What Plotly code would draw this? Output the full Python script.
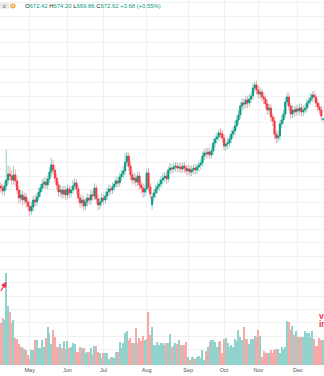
import plotly.graph_objects as go

# ---------------- data ----------------
month_ticks = [16, 37, 57, 81, 104, 124, 143, 165]
month_labels = ["May", "Jun", "Jul", "Aug", "Sep", "Oct", "Nov", "Dec"]

open_ = [622.5, 621.0, 618.8, 622.5, 627.0, 631.5, 630.0, 627.0, 630.8, 626.3,
 619.5, 613.5, 615.8, 612.0, 614.3, 610.5, 607.5, 603.8, 606.8, 612.0,
 610.5, 614.3, 618.0, 621.0, 624.0, 625.5, 623.3, 627.8, 633.0, 638.3,
 634.5, 628.5, 623.3, 618.0, 619.5, 616.5, 619.5, 615.8, 620.3, 617.3,
 619.5, 622.5, 624.8, 620.3, 613.5, 609.8, 612.0, 607.5, 610.5, 613.5,
 612.0, 615.8, 615.0, 621.0, 612.8, 608.3, 610.5, 613.5, 612.0, 615.0,
 618.0, 620.3, 619.5, 621.8, 624.0, 626.3, 624.8, 629.3, 631.5, 633.8,
 640.5, 645.0, 637.5, 630.8, 627.0, 628.5, 625.5, 630.0, 623.3, 621.0,
 618.0, 620.3, 632.3, 621.8, 608.3, 614.3, 617.3, 620.3, 622.5, 624.0,
 627.0, 628.5, 630.0, 627.8, 634.5, 636.0, 635.3, 636.8, 637.5, 636.0,
 636.8, 635.3, 637.5, 636.0, 633.8, 635.3, 633.0, 634.5, 636.0, 634.5,
 636.8, 638.3, 639.8, 645.0, 647.3, 646.5, 648.0, 645.8, 648.8, 654.8,
 657.8, 659.3, 662.3, 661.5, 658.5, 652.5, 654.0, 654.8, 657.8, 661.5,
 663.8, 667.5, 672.0, 675.8, 682.5, 684.8, 684.0, 687.0, 684.8, 687.8,
 690.0, 696.0, 698.3, 694.5, 691.5, 693.0, 689.3, 687.8, 684.0, 679.5,
 681.0, 674.3, 671.3, 661.5, 658.5, 660.0, 669.0, 672.0, 676.5, 685.5,
 689.3, 682.5, 676.5, 679.5, 678.0, 680.3, 678.8, 681.0, 678.0, 679.5,
 681.0, 684.8, 686.3, 688.5, 690.8, 689.3, 684.8, 681.8, 679.5, 672.42]

close = [621.0, 618.8, 622.5, 627.0, 631.5, 630.0, 627.0, 630.8, 626.3, 619.5,
 613.5, 615.8, 612.0, 614.3, 610.5, 607.5, 603.8, 606.8, 612.0, 610.5,
 614.3, 618.0, 621.0, 624.0, 625.5, 623.3, 627.8, 633.0, 638.3, 634.5,
 628.5, 623.3, 618.0, 619.5, 616.5, 619.5, 615.8, 620.3, 617.3, 619.5,
 622.5, 624.8, 620.3, 613.5, 609.8, 612.0, 607.5, 610.5, 613.5, 612.0,
 615.8, 615.0, 621.0, 612.8, 608.3, 610.5, 613.5, 612.0, 615.0, 618.0,
 620.3, 619.5, 621.8, 624.0, 626.3, 624.8, 629.3, 631.5, 633.8, 640.5,
 645.0, 637.5, 630.8, 627.0, 628.5, 625.5, 630.0, 623.3, 621.0, 618.0,
 620.3, 632.3, 621.8, 616.5, 614.3, 617.3, 620.3, 622.5, 624.0, 627.0,
 628.5, 630.0, 627.8, 634.5, 636.0, 635.3, 636.8, 637.5, 636.0, 636.8,
 635.3, 637.5, 636.0, 633.8, 635.3, 633.0, 634.5, 636.0, 634.5, 636.8,
 638.3, 639.8, 645.0, 647.3, 646.5, 648.0, 645.8, 648.8, 654.8, 657.8,
 659.3, 662.3, 661.5, 658.5, 652.5, 654.0, 654.8, 657.8, 661.5, 663.8,
 667.5, 672.0, 675.8, 682.5, 684.8, 684.0, 687.0, 684.8, 687.8, 690.0,
 696.0, 698.3, 694.5, 691.5, 693.0, 689.3, 687.8, 684.0, 679.5, 681.0,
 674.3, 671.3, 661.5, 658.5, 660.0, 669.0, 672.0, 676.5, 685.5, 689.3,
 682.5, 676.5, 679.5, 678.0, 680.3, 678.8, 681.0, 678.0, 679.5, 681.0,
 684.8, 686.3, 688.5, 690.8, 689.3, 684.8, 681.8, 679.5, 675.0, 672.62]

high = [625.5, 624.0, 626.0, 649.5, 638.0, 637.0, 634.5, 637.5, 635.0, 629.5,
 622.5, 619.5, 619.0, 617.5, 617.5, 613.5, 611.0, 610.5, 615.0, 616.0,
 617.0, 621.5, 624.0, 627.5, 629.0, 629.0, 630.5, 636.5, 643.5, 642.0,
 638.0, 632.0, 626.0, 623.5, 622.5, 623.0, 622.5, 624.0, 623.0, 622.5,
 627.0, 628.5, 627.5, 623.0, 617.0, 615.5, 615.0, 613.5, 617.0, 616.5,
 619.5, 619.0, 624.5, 623.5, 616.0, 613.5, 617.0, 616.5, 618.5, 621.0,
 623.5, 623.5, 625.0, 627.0, 629.5, 629.5, 632.5, 634.5, 637.5, 647.3,
 648.0, 647.5, 641.0, 633.5, 632.5, 631.5, 633.5, 633.0, 626.0, 624.5,
 623.5, 635.0, 636.0, 625.0, 617.0, 620.0, 623.5, 625.5, 627.5, 630.0,
 632.0, 633.0, 633.0, 637.0, 639.5, 639.0, 640.0, 640.5, 640.5, 639.5,
 640.0, 640.0, 640.5, 638.5, 638.5, 638.0, 638.0, 638.5, 639.0, 639.5,
 641.5, 642.5, 648.5, 650.0, 651.0, 651.0, 651.0, 652.0, 658.0, 660.5,
 662.5, 665.0, 666.0, 664.5, 661.5, 657.0, 658.5, 660.5, 664.5, 666.5,
 671.0, 675.0, 679.5, 685.5, 688.5, 688.0, 690.5, 690.0, 691.5, 693.5,
 699.5, 700.5, 701.5, 697.5, 696.5, 695.5, 693.0, 690.5, 687.0, 684.0,
 684.0, 677.0, 674.5, 664.5, 663.5, 671.5, 675.5, 679.5, 689.0, 692.5,
 692.5, 685.0, 683.0, 682.5, 683.5, 683.5, 684.5, 684.0, 683.0, 684.0,
 688.0, 689.0, 692.0, 693.5, 694.0, 692.0, 688.0, 684.5, 682.5, 674.20]

low = [617.5, 615.5, 615.5, 619.5, 623.5, 626.5, 623.5, 623.5, 622.0, 616.5,
 609.0, 610.0, 608.0, 609.0, 606.5, 604.0, 599.5, 601.0, 603.5, 607.0,
 607.5, 611.5, 614.5, 618.5, 620.5, 620.0, 620.0, 625.0, 629.5, 631.0,
 625.0, 619.5, 614.5, 614.5, 613.0, 613.5, 612.0, 612.5, 613.5, 614.0,
 616.5, 619.0, 616.5, 610.0, 606.0, 606.5, 604.0, 604.5, 607.0, 608.5,
 608.5, 611.5, 612.0, 609.0, 604.5, 605.0, 607.5, 608.5, 609.0, 612.0,
 615.0, 616.0, 616.5, 618.5, 621.0, 621.5, 622.0, 626.0, 628.5, 630.5,
 637.0, 634.0, 627.0, 623.5, 624.0, 622.0, 622.5, 619.5, 617.0, 613.5,
 614.5, 617.0, 618.5, 613.0, 605.0, 611.0, 614.0, 617.0, 619.0, 621.0,
 624.0, 625.5, 624.5, 625.0, 631.5, 632.0, 632.5, 633.5, 632.5, 633.0,
 632.0, 632.5, 632.5, 630.5, 630.5, 629.5, 630.0, 631.5, 631.0, 631.5,
 633.5, 635.0, 637.0, 642.0, 643.0, 643.5, 642.5, 643.0, 646.0, 651.5,
 654.5, 656.5, 658.0, 655.0, 649.0, 649.0, 650.5, 652.0, 654.5, 658.5,
 660.5, 664.5, 668.5, 673.0, 679.0, 680.0, 681.0, 681.0, 682.0, 684.5,
 687.0, 692.5, 691.0, 688.0, 688.0, 686.0, 684.0, 680.5, 676.0, 676.0,
 670.5, 667.5, 657.5, 654.5, 655.0, 657.0, 666.0, 669.0, 673.5, 682.5,
 679.0, 673.0, 673.5, 674.5, 675.0, 675.5, 675.5, 674.5, 675.0, 676.5,
 678.0, 681.5, 683.5, 685.5, 686.0, 681.5, 678.5, 676.0, 671.5, 669.86]

volume = [42, 47, 45, 92, 59, 53, 42, 45, 27, 26,
 21, 18, 18, 16, 15, 10, 6, 15, 15, 25,
 25, 17, 17, 25, 18, 27, 38, 32, 21, 35,
 28, 18, 18, 21, 17, 24, 16, 24, 17, 18,
 22, 21, 13, 13, 18, 17, 17, 12, 13, 13,
 17, 11, 19, 19, 13, 12, 7, 12, 12, 12,
 6, 8, 8, 7, 13, 13, 23, 17, 22, 32,
 34, 25, 27, 22, 22, 37, 22, 27, 24, 29,
 25, 26, 53, 30, 38, 20, 19, 23, 20, 22,
 22, 20, 22, 22, 31, 18, 20, 22, 21, 25,
 20, 20, 20, 23, 8, 5, 8, 8, 6, 8,
 9, 7, 15, 5, 14, 18, 23, 25, 25, 23,
 18, 23, 24, 12, 26, 27, 22, 18, 20, 18,
 26, 24, 35, 28, 25, 38, 26, 26, 21, 26,
 26, 29, 28, 35, 29, 8, 14, 12, 12, 12,
 15, 12, 15, 16, 16, 12, 18, 16, 18, 44,
 43, 35, 39, 30, 34, 28, 28, 28, 28, 34,
 32, 32, 28, 34, 26, 19, 19, 27, 25, 25]

bar_index = list(range(len(close)))

# ---------------- styling ----------------
UP = "#089981"
DN = "#f23645"
UP_WICK = "#8fd2c8"
DN_WICK = "#f8a8ad"
UP_VOL = "#92d2cc"
DN_VOL = "#f7a9a7"
GRID = "#f0f1f3"
W, H = 324, 376
B = 11
PH = H - B

vol_colors = [UP_VOL if c >= o else DN_VOL for o, c in zip(open_, close)]
body_top = [max(o, c) for o, c in zip(open_, close)]
body_bot = [min(o, c) for o, c in zip(open_, close)]

fig = go.Figure()
fig.add_trace(go.Bar(
    x=bar_index, y=volume, yaxis="y2",
    marker=dict(color=vol_colors, line=dict(width=0)),
    showlegend=False, hoverinfo="skip"))
# wicks (light)
fig.add_trace(go.Candlestick(
    x=bar_index, open=open_, high=high, low=low, close=close,
    increasing=dict(line=dict(color=UP_WICK, width=1), fillcolor=UP_WICK),
    decreasing=dict(line=dict(color=DN_WICK, width=1), fillcolor=DN_WICK),
    whiskerwidth=0, showlegend=False, hoverinfo="skip"))
# bodies (solid)
fig.add_trace(go.Candlestick(
    x=bar_index, open=open_, high=body_top, low=body_bot, close=close,
    increasing=dict(line=dict(color=UP, width=0.8), fillcolor=UP),
    decreasing=dict(line=dict(color=DN, width=0.8), fillcolor=DN),
    whiskerwidth=0, showlegend=False))

def px_x(p):
    return p / W

def px_y(p):
    return 1 - p / PH

header = ("O<span style='color:#089981'>672.42</span> "
          "H<span style='color:#089981'>674.20</span> "
          "L<span style='color:#089981'>669.86</span> "
          "C<span style='color:#089981'>672.62</span> "
          "<span style='color:#089981'>+3.68 (+0.55%)</span>")

annotations = [
    dict(x=px_x(22.7), y=px_y(5.6), xref="paper", yref="paper", text=header,
         showarrow=False, xanchor="left", yanchor="middle",
         font=dict(size=5.9, color="#131722")),
    dict(x=px_x(4.5), y=px_y(5.6), xref="paper", yref="paper", text="≡",
         showarrow=False, xanchor="center", yanchor="middle",
         font=dict(size=5, color="#555")),
    dict(x=px_x(12.7), y=px_y(5.6), xref="paper", yref="paper", text="D",
         showarrow=False, xanchor="center", yanchor="middle",
         font=dict(size=4.5, color="white")),
    dict(x=px_x(316.5), y=px_y(315.5), xref="paper", yref="paper", text="<b>volume</b>",
         showarrow=False, xanchor="left", yanchor="middle",
         font=dict(size=8.5, color=DN)),
    dict(x=px_x(316.5), y=px_y(323.5), xref="paper", yref="paper", text="<b>increase</b>",
         showarrow=False, xanchor="left", yanchor="middle",
         font=dict(size=8.5, color=DN)),
    dict(x=px_x(6.5), y=px_y(281.5), xref="paper", yref="paper", text="",
         showarrow=True, ax=-11, ay=11, arrowhead=2, arrowsize=1,
         arrowwidth=1.2, arrowcolor=DN, axref="pixel", ayref="pixel"),
]

shapes = [
    dict(type="rect", xref="paper", yref="paper",
         x0=px_x(0), x1=px_x(9), y0=px_y(8.6), y1=px_y(2.6),
         fillcolor="#e8e8ea", line=dict(width=0), layer="above"),
    dict(type="circle", xref="paper", yref="paper",
         x0=px_x(10), x1=px_x(15.5), y0=px_y(8.4), y1=px_y(2.9),
         fillcolor="#f7a440", line=dict(width=0), layer="above"),
]

fig.update_layout(
    width=W, height=H, autosize=False,
    margin=dict(l=0, r=0, t=0, b=B, pad=0),
    paper_bgcolor="white", plot_bgcolor="white",
    font=dict(family="Liberation Sans, Arial, sans-serif"),
    bargap=0.3, boxmode="overlay", boxgap=0.15,
    showlegend=False,
    xaxis=dict(range=[-0.5, len(close) - 0.5], tickmode="array",
               tickvals=month_ticks, ticktext=month_labels,
               showgrid=True, gridcolor=GRID, gridwidth=1, zeroline=False,
               showline=False, ticks="", tickfont=dict(size=5.5, color="#50535e"),
               rangeslider=dict(visible=False), fixedrange=True),
    yaxis=dict(range=[488.25, 762], dtick=10, tick0=0, showgrid=True,
               gridcolor=GRID, gridwidth=1, zeroline=False,
               showticklabels=False, ticks="", fixedrange=True),
    yaxis2=dict(overlaying="y", range=[0, PH], showgrid=False, zeroline=False,
                showticklabels=False, ticks="", fixedrange=True),
    annotations=annotations,
    shapes=shapes,
)

fig.write_html("out.html", config={"displayModeBar": False})
